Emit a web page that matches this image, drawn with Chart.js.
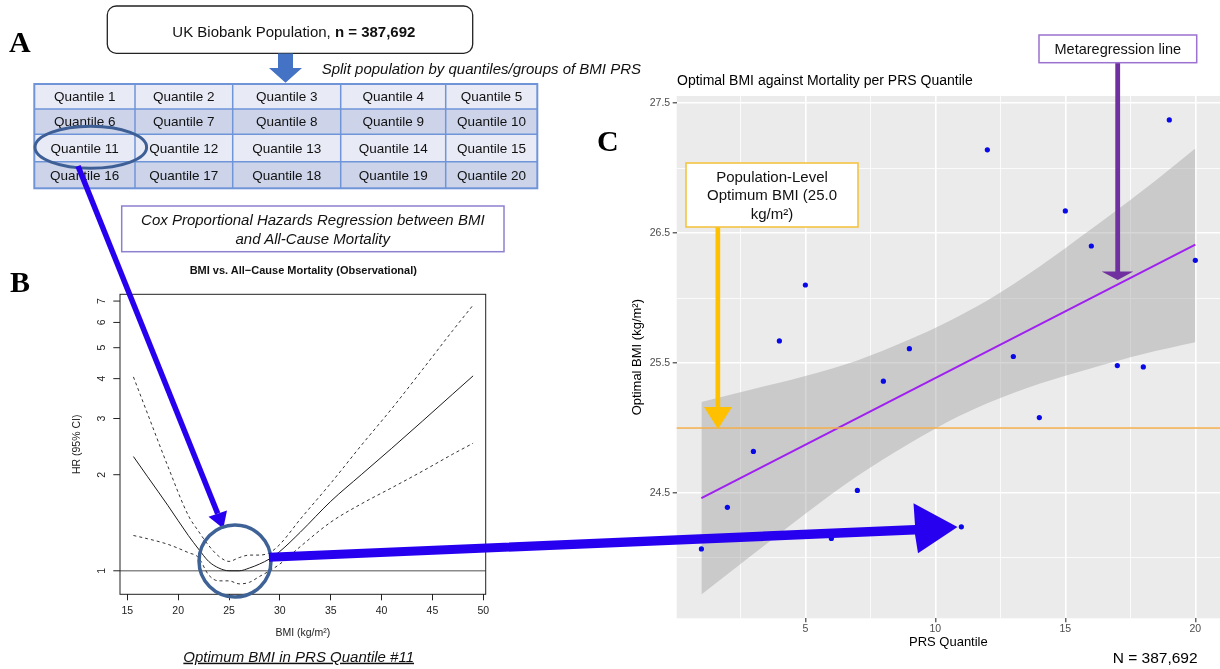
<!DOCTYPE html>
<html>
<head>
<meta charset="utf-8">
<title>Optimal BMI per PRS quantile</title>
<script src="https://cdn.jsdelivr.net/npm/chart.js@4.4.0/dist/chart.umd.min.js"></script>
<style>
  body { margin: 0; width: 1220px; height: 669px; overflow: hidden; position: relative; background: #fff; }
  canvas { position: absolute; }
  #chartB { left: 60px; top: 285px; }
  #chartC { left: 620px; top: 90px; }
  #overlay { position: absolute; left: 0; top: 0; z-index: 5; }
</style>
</head>
<body>

<canvas id="chartB" width="440" height="360"></canvas>
<canvas id="chartC" width="600" height="579"></canvas>

<svg id="overlay" width="1220" height="669" font-family="'Liberation Sans', Arial, Helvetica, sans-serif">
  <!-- panel letters -->
  <g font-family="'Liberation Serif', 'Times New Roman', serif" font-weight="bold" font-size="30" fill="#000">
    <text x="9" y="52">A</text>
    <text x="10" y="292">B</text>
    <text x="597" y="151">C</text>
  </g>

  <!-- A: population box + arrow -->
  <rect x="107.3" y="6" width="365.4" height="47.3" rx="9" fill="#fff" stroke="#222" stroke-width="1.3"/>
  <text x="172.3" y="36.7" font-size="15" fill="#111">UK Biobank Population, <tspan font-weight="bold">n = 387,692</tspan></text>
  <polygon points="278,53.5 293,53.5 293,68 302,68 285.5,82.7 269,68 278,68" fill="#4472C4"/>
  <text x="321.7" y="74" font-size="15" font-style="italic" fill="#111">Split population by quantiles/groups of BMI PRS</text>
  <g id="quantTable"></g>
  <ellipse cx="90.8" cy="147.2" rx="55.8" ry="21" fill="none" stroke="#3D5F96" stroke-width="3"/>

  <!-- Cox box -->
  <rect x="121.7" y="206" width="382.3" height="45.7" fill="#fff" stroke="#8F7FD0" stroke-width="1.5"/>
  <g font-size="15" font-style="italic" fill="#111" text-anchor="middle">
    <text x="312.8" y="225">Cox Proportional Hazards Regression between BMI</text>
    <text x="312.8" y="243.5">and All-Cause Mortality</text>
  </g>

  <!-- B titles -->
  <text x="303.3" y="274" font-size="11" font-weight="bold" text-anchor="middle" fill="#111">BMI vs. All−Cause Mortality (Observational)</text>
  <text x="298.7" y="661.7" font-size="15" font-style="italic" text-anchor="middle" text-decoration="underline" fill="#111">Optimum BMI in PRS Quantile #11</text>

  <!-- C titles -->
  <text x="677" y="85" font-size="14" fill="#000">Optimal BMI against Mortality per PRS Quantile</text>
  <text x="1112.7" y="663.3" font-size="15.5" fill="#000">N = 387,692</text>

  <!-- population-level annotation -->
  <rect x="715.5" y="227" width="4.7" height="181" fill="#FFC000"/>
  <polygon points="704,407 732,407 718,429" fill="#FFC000"/>
  <rect x="686" y="163" width="172" height="64" fill="#fff" stroke="#F6C444" stroke-width="1.6"/>
  <g font-size="15" fill="#111" text-anchor="middle">
    <text x="772" y="182">Population-Level</text>
    <text x="772" y="200">Optimum BMI (25.0</text>
    <text x="772" y="218.5">kg/m²)</text>
  </g>

  <!-- metaregression annotation -->
  <rect x="1115.3" y="63" width="4.8" height="209" fill="#7030A0"/>
  <polygon points="1101.7,271.5 1133.3,271.5 1117.7,280" fill="#7030A0"/>
  <rect x="1039" y="35" width="157.7" height="27.7" fill="#fff" stroke="#9B72CF" stroke-width="1.5"/>
  <text x="1117.8" y="54" font-size="14.5" fill="#111" text-anchor="middle">Metaregression line</text>

  <!-- blue pointers -->
  <line x1="78" y1="166" x2="217.7" y2="513.6" stroke="#2800F0" stroke-width="5.5"/>
  <polygon points="223.3,528.5 208.5,516.8 227,510.5" fill="#2800F0"/>
  <circle cx="235" cy="561" r="36" fill="none" stroke="#3E6296" stroke-width="3.5"/>
  <polygon points="269,552.8 915,525 913.5,503.3 957.5,527 918,553.3 915,534.5 269,561.8" fill="#2800F0"/>
</svg>

<script>
const F = "'Liberation Sans', Arial, Helvetica, sans-serif";

// ---- panel B: spline HR curve ----
const bmiGrid    = [15.6, 17, 19, 21, 22, 23, 24, 25, 26, 27, 28, 29, 30, 32, 35, 38, 41, 44, 47, 49];
const hrEstimate = [2.28, 1.97, 1.60, 1.29, 1.17, 1.07, 1.02, 1.00, 1.00, 1.02, 1.05, 1.09, 1.15, 1.32, 1.65, 2.00, 2.42, 2.94, 3.58, 4.08];
const hrUpper    = [4.05, 3.10, 2.12, 1.49, 1.33, 1.20, 1.11, 1.07, 1.10, 1.12, 1.12, 1.14, 1.21, 1.45, 1.88, 2.47, 3.22, 4.26, 5.66, 6.80];
const hrLower    = [1.29, 1.26, 1.21, 1.14, 1.10, 0.97, 0.93, 0.93, 0.91, 0.92, 0.96, 1.00, 1.05, 1.19, 1.42, 1.62, 1.82, 2.05, 2.32, 2.51];
const bmiTicks   = [15, 20, 25, 30, 35, 40, 45, 50];
const hrTicks    = [1, 2, 3, 4, 5, 6, 7];
const hrReference = 1;

// ---- panel C: optimal BMI per PRS quantile ----
const quantiles  = [1, 2, 3, 4, 5, 6, 7, 8, 9, 10, 11, 12, 13, 14, 15, 16, 17, 18, 19, 20];
const optimalBmi = [24.07, 24.39, 24.82, 25.67, 26.10, 24.15, 24.52, 25.36, 25.61, 24.27,
                    24.24, 27.14, 25.55, 25.08, 26.67, 26.40, 25.48, 25.47, 27.37, 26.29];
const fitX = [1, 20];
const fitY = [24.46, 26.41];
const bandX     = [1, 3, 5, 7, 9, 10.5, 12, 14, 16, 18, 20];
const bandUpper = [25.20, 25.30, 25.40, 25.52, 25.68, 25.82, 25.98, 26.24, 26.53, 26.83, 27.15];
const bandLower = [23.72, 24.03, 24.34, 24.63, 24.88, 25.05, 25.19, 25.34, 25.46, 25.57, 25.66];
const populationOptimum = 25.0;
const qMajor = [5, 10, 15, 20];
const qMinor = [2.5, 7.5, 12.5, 17.5];
const bmiMajor = [24.5, 25.5, 26.5, 27.5];
const bmiMinor = [24, 25, 26, 27];

// ---- panel A table ----
(function buildTable() {
  const g = document.getElementById('quantTable');
  const cols = [34.3, 135, 232.7, 340.7, 445.7, 537.3];
  const rows = [84, 109, 134.3, 161.7, 188.3];
  let html = '';
  for (let r = 0; r < 4; r++) {
    const fill = r % 2 === 0 ? '#E8EAF5' : '#CDD4EA';
    html += `<rect x="${cols[0]}" y="${rows[r]}" width="${cols[5] - cols[0]}" height="${rows[r + 1] - rows[r]}" fill="${fill}"/>`;
    for (let c = 0; c < 5; c++) {
      const q = quantiles[r * 5 + c];
      const cx = (cols[c] + cols[c + 1]) / 2;
      const cy = (rows[r] + rows[r + 1]) / 2 + 4.8;
      html += `<text x="${cx}" y="${cy}" font-size="13.5" text-anchor="middle" fill="#111">Quantile ${q}</text>`;
    }
  }
  for (let i = 1; i < 5; i++) html += `<line x1="${cols[i]}" y1="${rows[0]}" x2="${cols[i]}" y2="${rows[4]}" stroke="#6F95D8" stroke-width="1.5"/>`;
  for (let i = 1; i < 4; i++) html += `<line x1="${cols[0]}" y1="${rows[i]}" x2="${cols[5]}" y2="${rows[i]}" stroke="#6F95D8" stroke-width="1.5"/>`;
  html += `<rect x="${cols[0]}" y="${rows[0]}" width="${cols[5] - cols[0]}" height="${rows[4] - rows[0]}" fill="none" stroke="#6F95D8" stroke-width="2"/>`;
  g.innerHTML = html;
})();

function toPoints(xs, ys) {
  return xs.map((x, i) => ({ x: x, y: ys[i] }));
}

// R-style box, reference line and rotated y labels
const rPlotPlugin = {
  id: 'rPlot',
  beforeDatasetsDraw(chart) {
    const { ctx, chartArea: a } = chart;
    const y = chart.scales.y.getPixelForValue(hrReference);
    ctx.save();
    ctx.strokeStyle = '#8a8a8a';
    ctx.lineWidth = 1.4;
    ctx.beginPath();
    ctx.moveTo(a.left, y);
    ctx.lineTo(a.right, y);
    ctx.stroke();
    ctx.restore();
  },
  afterDraw(chart) {
    const { ctx, chartArea: a } = chart;
    const ys = chart.scales.y;
    ctx.save();
    ctx.strokeStyle = '#222';
    ctx.lineWidth = 1;
    ctx.strokeRect(a.left, a.top, a.right - a.left, a.bottom - a.top);
    ctx.fillStyle = '#222';
    ctx.font = '10.5px ' + F;
    ctx.textAlign = 'center';
    ctx.textBaseline = 'middle';
    hrTicks.forEach(v => {
      const y = ys.getPixelForValue(v);
      ctx.beginPath();
      ctx.moveTo(a.left - 6.7, y);
      ctx.lineTo(a.left, y);
      ctx.stroke();
      ctx.save();
      ctx.translate(a.left - 18.3, y);
      ctx.rotate(-Math.PI / 2);
      ctx.fillText(String(v), 0, 0);
      ctx.restore();
    });
    ctx.restore();
  }
};

new Chart(document.getElementById('chartB'), {
  type: 'line',
  data: {
    datasets: [
      { data: toPoints(bmiGrid, hrEstimate), borderColor: '#1a1a1a', borderWidth: 1 },
      { data: toPoints(bmiGrid, hrUpper), borderColor: '#333', borderWidth: 1, borderDash: [3, 3] },
      { data: toPoints(bmiGrid, hrLower), borderColor: '#333', borderWidth: 1, borderDash: [3, 3] }
    ]
  },
  options: {
    responsive: false,
    animation: false,
    layout: { autoPadding: false, padding: { top: 9.3, right: 14.3, left: 0, bottom: 0 } },
    elements: { point: { radius: 0 }, line: { cubicInterpolationMode: 'monotone', fill: false } },
    plugins: { legend: { display: false }, tooltip: { enabled: false } },
    scales: {
      x: {
        type: 'linear', min: 14.28, max: 50.24,
        afterBuildTicks: s => { s.ticks = bmiTicks.map(v => ({ value: v })); },
        afterFit: s => { s.height = 50.7; s.paddingLeft = 0; s.paddingRight = 0; },
        grid: { drawOnChartArea: false, drawTicks: true, tickLength: 6, tickColor: '#222', tickWidth: 1 },
        border: { display: false },
        ticks: { padding: 5, color: '#222', font: { size: 10.5, family: F }, autoSkip: false, maxRotation: 0 },
        title: { display: true, text: 'BMI (kg/m²)', color: '#222', font: { size: 10.5, family: F }, padding: { top: 0, bottom: 6 } }
      },
      y: {
        type: 'logarithmic', min: 0.844, max: 7.35,
        afterBuildTicks: s => { s.ticks = hrTicks.map(v => ({ value: v })); },
        afterFit: s => { s.width = 60; s.paddingTop = 0; s.paddingBottom = 0; },
        grid: { display: false },
        border: { display: false },
        ticks: { display: false },
        title: { display: true, text: 'HR (95% CI)', color: '#222', font: { size: 10.5, family: F }, padding: { top: 10.4, bottom: 0 } }
      }
    }
  },
  plugins: [rPlotPlugin]
});

// ggplot-style panel background and reference line
const ggPlugin = {
  id: 'gg',
  beforeDraw(chart) {
    const { ctx, chartArea: a } = chart;
    ctx.save();
    ctx.fillStyle = '#EBEBEB';
    ctx.fillRect(a.left, a.top, a.right - a.left, a.bottom - a.top);
    ctx.restore();
  },
  afterDatasetsDraw(chart) {
    const { ctx, chartArea: a } = chart;
    const y = chart.scales.y.getPixelForValue(populationOptimum);
    ctx.save();
    ctx.strokeStyle = '#F0AC48';
    ctx.lineWidth = 1.6;
    ctx.beginPath();
    ctx.moveTo(a.left, y);
    ctx.lineTo(a.right, y);
    ctx.stroke();
    ctx.restore();
  }
};

const xAll = qMinor.concat(qMajor).sort((a, b) => a - b);
const yAll = bmiMinor.concat(bmiMajor).sort((a, b) => a - b);

new Chart(document.getElementById('chartC'), {
  type: 'line',
  data: {
    datasets: [
      { label: 'lower', data: toPoints(bandX, bandLower), borderColor: 'rgba(0,0,0,0)', pointRadius: 0,
        fill: false, cubicInterpolationMode: 'monotone', order: 4 },
      { label: 'upper', data: toPoints(bandX, bandUpper), borderColor: 'rgba(0,0,0,0)', pointRadius: 0,
        fill: '-1', backgroundColor: 'rgba(153,153,153,0.4)', cubicInterpolationMode: 'monotone', order: 3 },
      { label: 'fit', data: toPoints(fitX, fitY), borderColor: '#A020F0', borderWidth: 2, pointRadius: 0, fill: false, order: 1 },
      { label: 'Optimal BMI', data: toPoints(quantiles, optimalBmi), showLine: false, pointRadius: 2.6,
        pointBackgroundColor: '#0808E8', pointBorderColor: '#0808E8', pointBorderWidth: 0, order: 0 }
    ]
  },
  options: {
    responsive: false,
    animation: false,
    layout: { autoPadding: false, padding: { top: 6, right: 0, left: 0, bottom: 0 } },
    plugins: { legend: { display: false }, tooltip: { enabled: false } },
    scales: {
      x: {
        type: 'linear', min: 0.05, max: 20.95,
        afterBuildTicks: s => { s.ticks = xAll.map(v => ({ value: v })); },
        afterFit: s => { s.height = 50.7; s.paddingLeft = 0; s.paddingRight = 0; },
        grid: {
          color: '#fff',
          lineWidth: c => qMajor.includes(c.tick.value) ? 1.6 : 0.8,
          tickColor: c => qMajor.includes(c.tick.value) ? '#333' : 'rgba(0,0,0,0)',
          tickLength: 4, tickWidth: 1.1
        },
        border: { display: false },
        ticks: {
          padding: 1, color: '#4D4D4D', font: { size: 10.5, family: F }, autoSkip: false, maxRotation: 0,
          callback: v => qMajor.includes(v) ? String(v) : ''
        },
        title: { display: true, text: 'PRS Quantile', color: '#000', font: { size: 13, family: F }, padding: { top: 0, bottom: 19.2 } }
      },
      y: {
        type: 'linear', min: 23.536, max: 27.554,
        afterBuildTicks: s => { s.ticks = yAll.map(v => ({ value: v })); },
        afterFit: s => { s.width = 56.7; s.paddingTop = 0; s.paddingBottom = 0; },
        grid: {
          color: '#fff',
          lineWidth: c => bmiMajor.includes(c.tick.value) ? 1.6 : 0.8,
          tickColor: c => bmiMajor.includes(c.tick.value) ? '#333' : 'rgba(0,0,0,0)',
          tickLength: 4, tickWidth: 1.1
        },
        border: { display: false },
        ticks: {
          padding: 2.5, color: '#4D4D4D', font: { size: 10.5, family: F }, autoSkip: false,
          callback: v => bmiMajor.includes(v) ? v.toFixed(1) : ''
        },
        title: { display: true, text: 'Optimal BMI (kg/m²)', color: '#000', font: { size: 13, family: F }, padding: { top: 9.2, bottom: 0 } }
      }
    }
  },
  plugins: [ggPlugin]
});
</script>
</body>
</html>
